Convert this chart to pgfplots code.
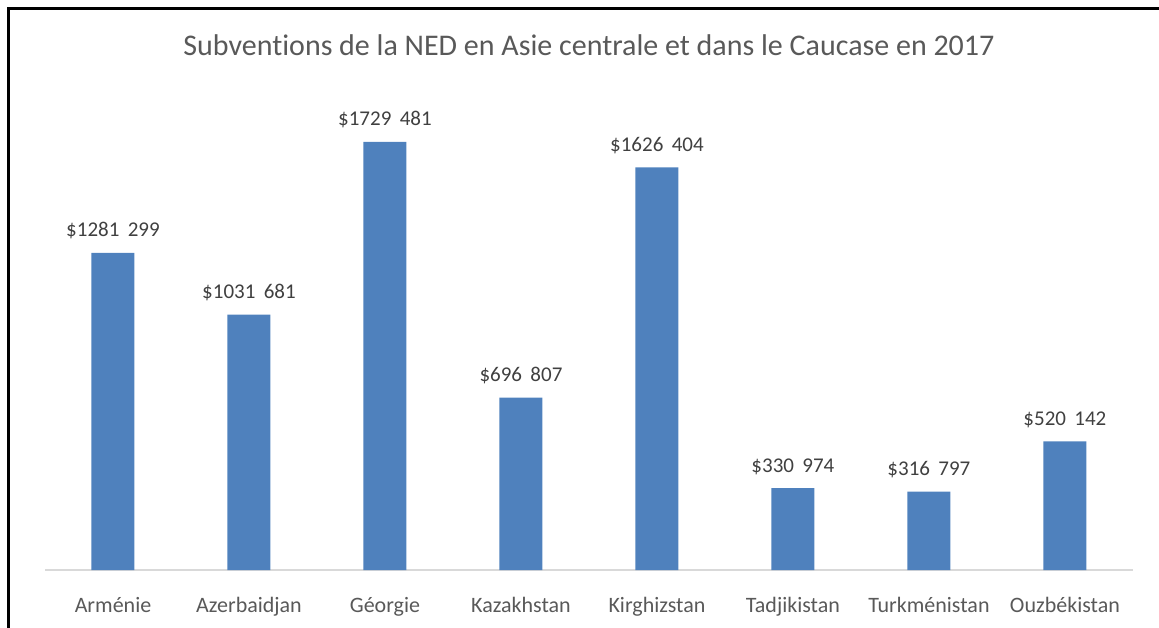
\documentclass[border=0pt]{standalone}
\usepackage{fontspec}
\setmainfont{Carlito}[Ligatures=NoCommon]
\usepackage{pgfplots}
\pgfplotsset{compat=1.18}
\definecolor{barBlue}{HTML}{4F81BD}
\definecolor{txtGray}{HTML}{595959}
\definecolor{lblGray}{HTML}{404040}
\definecolor{baseGray}{HTML}{D9D9D9}
\begin{document}
\begin{tikzpicture}
\useasboundingbox (-45pt,-57pt) rectangle (1114pt,570pt);
\draw[line width=3pt, black] (-36.5pt,-60pt) -- (-36.5pt,561.5pt) -- (1120pt,561.5pt);
\begin{axis}[
  at={(0pt,0pt)}, anchor=south west,
  scale only axis, width=1088pt, height=495pt,
  xmin=-0.5, xmax=7.5, ymin=0, ymax=2000000,
  hide y axis,
  axis x line*=bottom,
  x axis line style={color=baseGray, line width=1.2pt},
  xtick={0,...,7},
  xticklabels={Arménie,Azerbaidjan,Géorgie,Kazakhstan,Kirghizstan,Tadjikistan,Turkménistan,Ouzbékistan},
  xtick style={draw=none},
  xticklabel style={font=\fontsize{22}{26}\selectfont, text=txtGray, anchor=base, yshift=-38pt},
  ybar, bar width=43pt,
  point meta=explicit symbolic,
  nodes near coords,
  nodes near coords style={font=\fontsize{21}{25}\selectfont, text=lblGray, anchor=base, yshift=16pt},
  title={Subventions de la NED en Asie centrale et dans le Caucase en 2017},
  title style={font=\fontsize{30}{36}\selectfont, text=txtGray, anchor=base, at={(0.5,1)}, yshift=13pt},
]
\addplot[fill=barBlue, draw=none] coordinates {
  (0,1281299) [\$1281\hspace{0.4em}299]
  (1,1031681) [\$1031\hspace{0.4em}681]
  (2,1729481) [\$1729\hspace{0.4em}481]
  (3,696807)  [\$696\hspace{0.4em}807]
  (4,1626404) [\$1626\hspace{0.4em}404]
  (5,330974)  [\$330\hspace{0.4em}974]
  (6,316797)  [\$316\hspace{0.4em}797]
  (7,520142)  [\$520\hspace{0.4em}142]
};
\end{axis}
\end{tikzpicture}
\end{document}
